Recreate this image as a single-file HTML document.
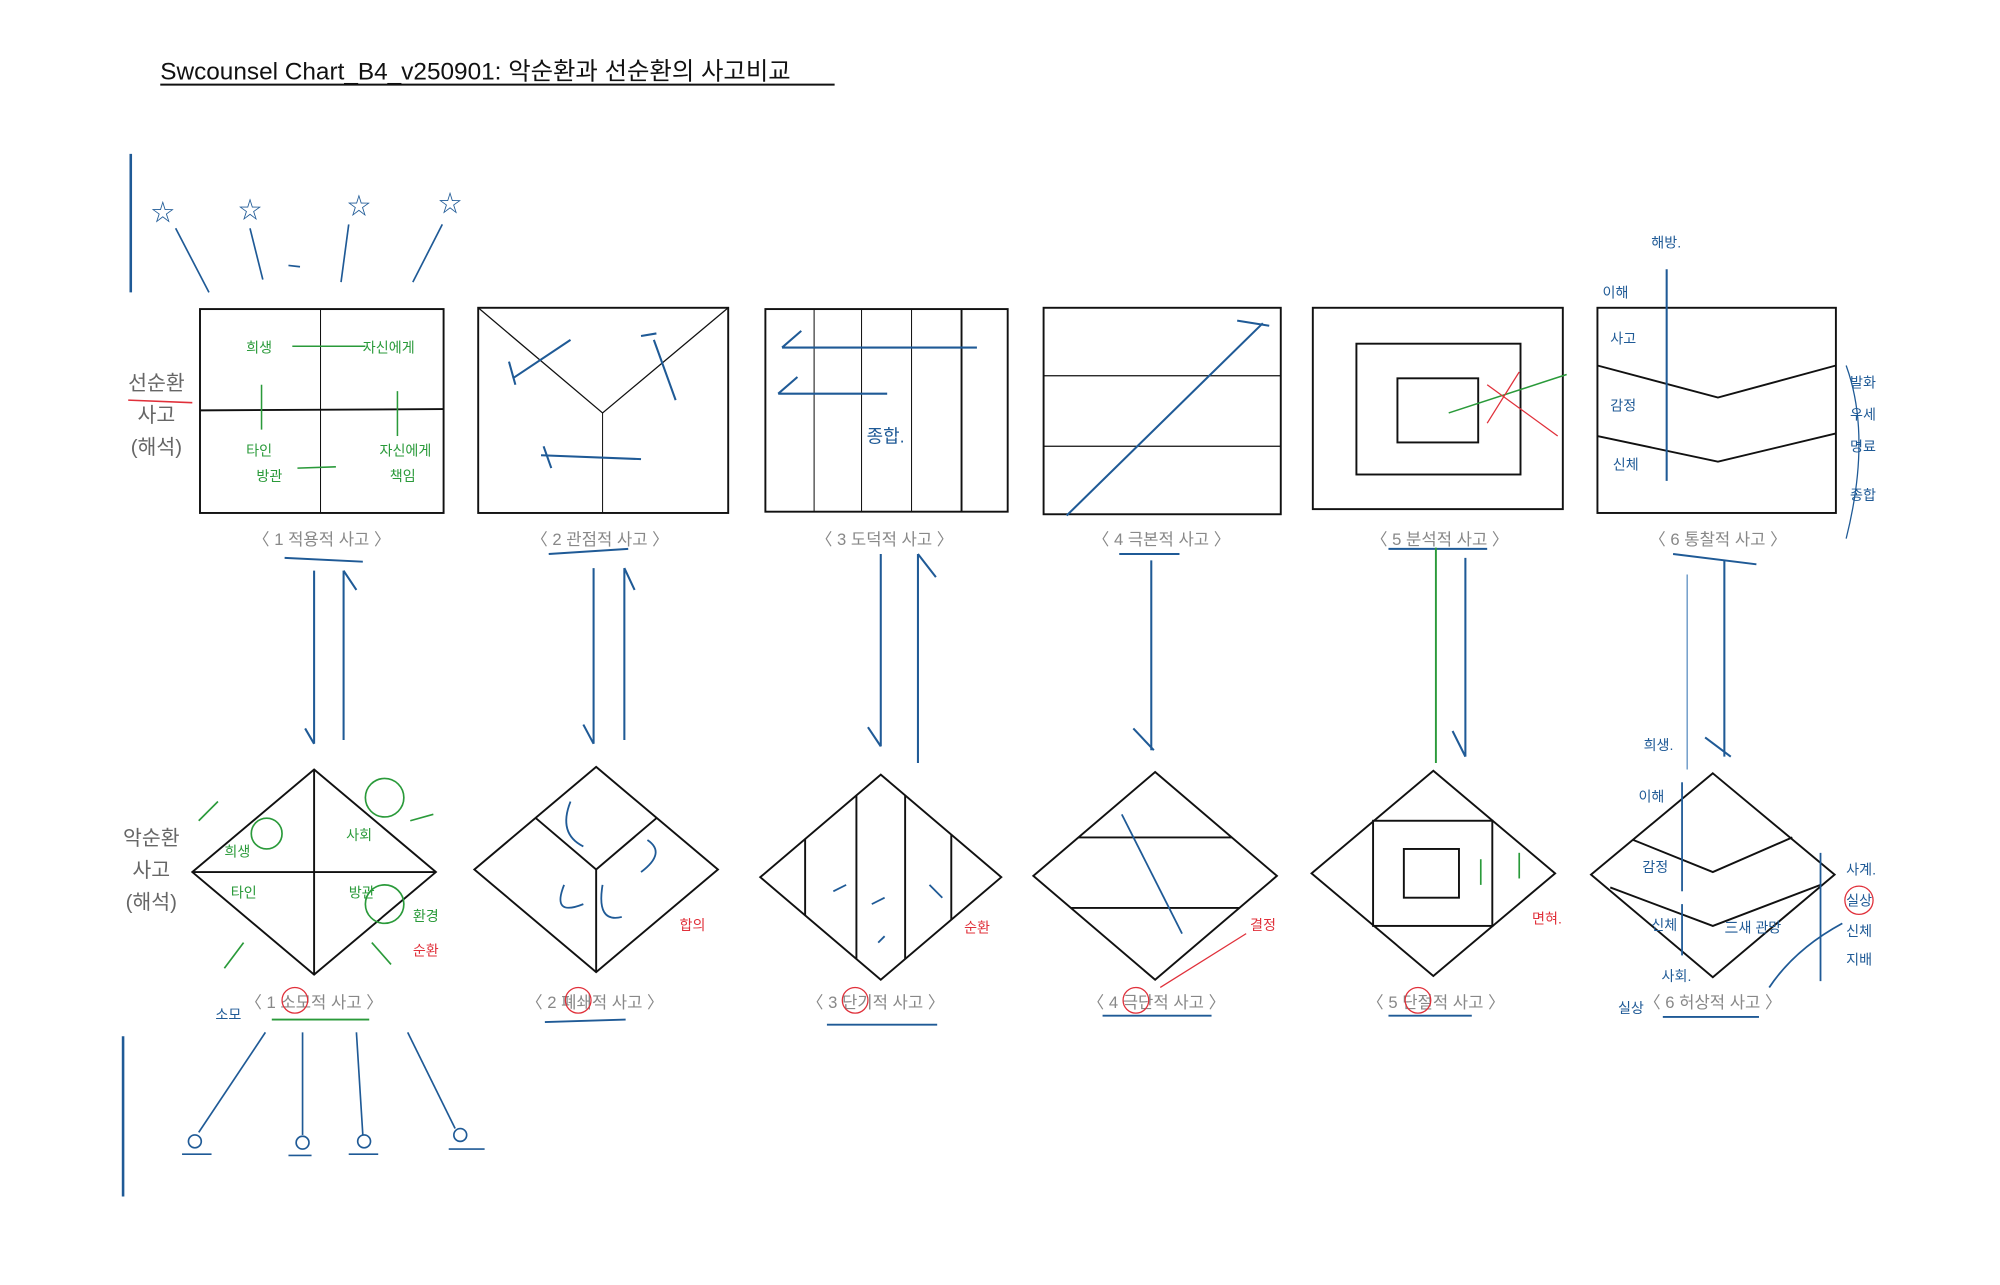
<!DOCTYPE html>
<html><head><meta charset="utf-8"><style>
html,body{margin:0;padding:0;background:#fff;}
svg{display:block;}
text{font-family:"Liberation Sans","Noto Sans CJK KR",sans-serif;}
</style></head><body>
<svg width="2000" height="1285" viewBox="0 0 1560 1002" preserveAspectRatio="none" xmlns="http://www.w3.org/2000/svg">
<g>
<text x="125" y="62" font-size="19" fill="#111">Swcounsel Chart_B4_v250901: 악순환과 선순환의 사고비교</text>
<line x1="125" y1="66" x2="651" y2="66" stroke="#111" stroke-width="1.5"/>
</g>
<line x1="102" y1="120" x2="102" y2="228" stroke="#1f5a96" stroke-width="2"/>
<line x1="96" y1="808" x2="96" y2="933" stroke="#1f5a96" stroke-width="2"/>
<g stroke="#1f5a96" stroke-width="1.3" fill="none">
<text x="118" y="172" font-size="18" fill="#1f5a96" stroke="none">☆</text>
<text x="186" y="170" font-size="18" fill="#1f5a96" stroke="none">☆</text>
<text x="271" y="167" font-size="18" fill="#1f5a96" stroke="none">☆</text>
<text x="342" y="165" font-size="18" fill="#1f5a96" stroke="none">☆</text>
<line x1="137" y1="178" x2="163" y2="228"/><line x1="195" y1="178" x2="205" y2="218"/>
<line x1="272" y1="175" x2="266" y2="220"/><line x1="345" y1="175" x2="322" y2="220"/>
<line x1="225" y1="207" x2="234" y2="208"/>
<line x1="207" y1="805" x2="155" y2="883"/><line x1="236" y1="805" x2="236" y2="885"/>
<line x1="278" y1="805" x2="283" y2="885"/><line x1="318" y1="805" x2="355" y2="880"/>
<circle cx="152" cy="890" r="5"/><circle cx="236" cy="891" r="5"/><circle cx="284" cy="890" r="5"/><circle cx="359" cy="885" r="5"/>
<line x1="142" y1="900" x2="165" y2="900"/><line x1="225" y1="901" x2="243" y2="901"/><line x1="272" y1="900" x2="295" y2="900"/><line x1="350" y1="896" x2="378" y2="896"/>
</g>
<g font-size="16" fill="#666" text-anchor="middle">
<text x="122" y="304">선순환</text><text x="122" y="329">사고</text><text x="122" y="354">(해석)</text>
<text x="118" y="659">악순환</text><text x="118" y="684">사고</text><text x="118" y="709">(해석)</text>
</g>
<line x1="100" y1="312" x2="150" y2="314" stroke="#e0303a" stroke-width="1.2"/>
<g stroke="#111" stroke-width="1.5" fill="none">
<rect x="156" y="241" width="190" height="159"/>
<line x1="250" y1="241" x2="250" y2="400" stroke-width="0.8"/>
<line x1="156" y1="320" x2="346" y2="319"/>
<rect x="373" y="240" width="195" height="160"/>
<polyline points="373,240 470,322 568,240" stroke-width="1"/>
<line x1="470" y1="322" x2="470" y2="400" stroke-width="0.8"/>
<rect x="597" y="241" width="189" height="158"/>
<line x1="635" y1="241" x2="635" y2="399" stroke-width="0.8"/>
<line x1="672" y1="241" x2="672" y2="399" stroke-width="0.8"/>
<line x1="711" y1="241" x2="711" y2="399" stroke-width="0.8"/>
<line x1="750" y1="241" x2="750" y2="399"/>
<rect x="814" y="240" width="185" height="161"/>
<line x1="814" y1="293" x2="999" y2="293" stroke-width="1"/>
<line x1="814" y1="348" x2="999" y2="348" stroke-width="1"/>
<rect x="1024" y="240" width="195" height="157"/>
<rect x="1058" y="268" width="128" height="102"/>
<rect x="1090" y="295" width="63" height="50"/>
<rect x="1246" y="240" width="186" height="160"/>
<polyline points="1246,285 1340,310 1432,285"/>
<polyline points="1246,340 1340,360 1432,338"/>
</g>
<g stroke="#1f5a96" stroke-width="1.6" fill="none">
<line x1="832" y1="402" x2="985" y2="252"/><line x1="965" y1="250" x2="990" y2="254"/>
<line x1="400" y1="295" x2="445" y2="265"/><line x1="397" y1="282" x2="402" y2="300"/>
<line x1="510" y1="265" x2="527" y2="312"/><line x1="500" y1="262" x2="512" y2="260"/>
<line x1="422" y1="355" x2="500" y2="358"/><line x1="424" y1="348" x2="430" y2="365"/>
<line x1="610" y1="271" x2="762" y2="271"/><line x1="610" y1="271" x2="625" y2="258"/>
<line x1="607" y1="307" x2="692" y2="307"/><line x1="607" y1="307" x2="622" y2="294"/>
<line x1="1300" y1="210" x2="1300" y2="375"/>
</g>
<text x="676" y="345" font-size="14" fill="#1f5a96">종합.</text>
<g stroke="#2a9a3a" stroke-width="1.2" fill="none">
<line x1="228" y1="270" x2="285" y2="270"/><line x1="204" y1="300" x2="204" y2="335"/>
<line x1="310" y1="305" x2="310" y2="340"/><line x1="232" y1="365" x2="262" y2="364"/>
<line x1="1130" y1="322" x2="1222" y2="292"/>
</g>
<g font-size="11" fill="#2a9a3a"><text x="192" y="275">희생</text><text x="283" y="275">자신에게</text><text x="192" y="355">타인</text><text x="200" y="375">방관</text><text x="296" y="355">자신에게</text><text x="304" y="375">책임</text></g>
<g stroke="#e0303a" stroke-width="1"><line x1="1160" y1="300" x2="1215" y2="340"/><line x1="1185" y1="290" x2="1160" y2="330"/></g>
<g font-size="11" fill="#1f5a96"><text x="1288" y="193">해방.</text><text x="1250" y="232">이해</text><text x="1256" y="268">사고</text><text x="1256" y="320">감정</text><text x="1258" y="366">신체</text>
<text x="1443" y="302">발화</text><text x="1443" y="327">우세</text><text x="1443" y="352">명료</text><text x="1443" y="390">종합</text></g>
<path d="M1440 285 Q1460 340 1440 420" stroke="#1f5a96" fill="none" stroke-width="1"/>
<g font-size="13" fill="#888" text-anchor="middle">
<text x="251" y="425">〈 1 적용적 사고 〉</text>
<text x="468" y="425">〈 2 관점적 사고 〉</text>
<text x="690" y="425">〈 3 도덕적 사고 〉</text>
<text x="906" y="425">〈 4 극본적 사고 〉</text>
<text x="1123" y="425">〈 5 분석적 사고 〉</text>
<text x="1340" y="425">〈 6 통찰적 사고 〉</text>
</g>
<g stroke="#1f5a96" stroke-width="1.5">
<line x1="222" y1="435" x2="283" y2="438"/><line x1="428" y1="432" x2="490" y2="428"/>
<line x1="873" y1="432" x2="920" y2="432"/><line x1="1083" y1="428" x2="1160" y2="428"/><line x1="1305" y1="432" x2="1370" y2="440"/>
</g>
<g stroke="#1f5a96" stroke-width="1.6" fill="none">
<line x1="245" y1="445" x2="245" y2="580"/><line x1="238" y1="568" x2="245" y2="580"/>
<line x1="268" y1="445" x2="268" y2="577"/><line x1="268" y1="445" x2="278" y2="460"/>
<line x1="463" y1="443" x2="463" y2="580"/><line x1="455" y1="565" x2="463" y2="580"/>
<line x1="487" y1="443" x2="487" y2="577"/><line x1="487" y1="443" x2="495" y2="460"/>
<line x1="687" y1="432" x2="687" y2="582"/><line x1="677" y1="567" x2="687" y2="582"/>
<line x1="716" y1="432" x2="716" y2="595"/><line x1="716" y1="432" x2="730" y2="450"/>
<line x1="898" y1="437" x2="898" y2="585"/><line x1="884" y1="568" x2="900" y2="585"/>
<line x1="1143" y1="435" x2="1143" y2="590"/><line x1="1133" y1="570" x2="1143" y2="590"/>
<line x1="1345" y1="437" x2="1345" y2="590"/><line x1="1330" y1="575" x2="1350" y2="590"/>
<line x1="1316" y1="448" x2="1316" y2="600" stroke="#5a8ec0" stroke-width="1"/>
</g>
<line x1="1120" y1="427" x2="1120" y2="595" stroke="#2a9a3a" stroke-width="1.5"/>
<g stroke="#111" stroke-width="1.5" fill="none">
<polygon points="245,600 340,680 245,760 150,680"/>
<line x1="245" y1="600" x2="245" y2="760"/><line x1="150" y1="680" x2="340" y2="680"/>
<polygon points="465,598 560,678 465,758 370,678"/>
<polyline points="418,638 465,678 512,638"/><line x1="465" y1="678" x2="465" y2="758"/>
<polygon points="687,604 781,684 687,764 593,684"/>
<line x1="628" y1="654" x2="628" y2="714"/><line x1="668" y1="620" x2="668" y2="748"/>
<line x1="706" y1="620" x2="706" y2="748"/><line x1="742" y1="651" x2="742" y2="717"/>
<polygon points="901,602 996,683 901,764 806,683"/>
<line x1="841" y1="653" x2="961" y2="653"/><line x1="835" y1="708" x2="967" y2="708"/>
<polygon points="1118,601 1213,681 1118,761 1023,681"/>
<rect x="1071" y="640" width="93" height="82"/><rect x="1095" y="662" width="43" height="38"/>
<polygon points="1336,603 1431,682 1336,762 1241,682"/>
<polyline points="1274,655 1336,680 1398,653"/>
<polyline points="1256,692 1336,722 1420,690"/>
</g>
<g stroke="#2a9a3a" stroke-width="1.3" fill="none">
<circle cx="300" cy="622" r="15"/><circle cx="300" cy="705" r="15"/><circle cx="208" cy="650" r="12"/>
<line x1="190" y1="735" x2="175" y2="755"/><line x1="290" y1="735" x2="305" y2="752"/>
<line x1="170" y1="625" x2="155" y2="640"/><line x1="320" y1="640" x2="338" y2="635"/>
<line x1="1155" y1="670" x2="1155" y2="690"/><line x1="1185" y1="665" x2="1185" y2="685"/>
</g>
<g font-size="11" fill="#2a9a3a"><text x="175" y="668">희생</text><text x="270" y="655">사회</text><text x="180" y="700">타인</text><text x="272" y="700">방관</text><text x="322" y="718">환경</text></g>
<g stroke="#1f5a96" stroke-width="1.4" fill="none">
<path d="M445 625 Q435 650 455 660"/><path d="M440 690 Q430 715 455 705"/><path d="M470 690 Q465 720 485 715"/><path d="M505 655 Q520 665 500 680"/>
<line x1="875" y1="635" x2="922" y2="728"/>
<line x1="650" y1="695" x2="660" y2="690"/><line x1="680" y1="705" x2="690" y2="700"/><line x1="725" y1="690" x2="735" y2="700"/><line x1="685" y1="735" x2="690" y2="730"/>
<line x1="1312" y1="610" x2="1312" y2="695"/><line x1="1312" y1="705" x2="1312" y2="745"/>
<path d="M1437 720 Q1400 740 1380 770"/><line x1="1420" y1="665" x2="1420" y2="765"/>
</g>
<g font-size="11" fill="#1f5a96"><text x="1282" y="585">희생.</text><text x="1278" y="625">이해</text><text x="1281" y="680">감정</text><text x="1288" y="725">신체</text><text x="1345" y="727">三새 관망</text><text x="1296" y="765">사회.</text><text x="1262" y="790">실상</text>
<text x="1440" y="682">사계.</text><text x="1440" y="706">실상</text><text x="1440" y="730">신체</text><text x="1440" y="752">지배</text></g>
<g font-size="11" fill="#e0303a"><text x="530" y="725">합의</text><text x="752" y="727">순환</text><text x="975" y="725">결정</text><text x="1195" y="720">면혀.</text><text x="322" y="745">순환</text></g>
<circle cx="1450" cy="702" r="11" stroke="#e0303a" fill="none"/>
<line x1="972" y1="728" x2="905" y2="770" stroke="#e0303a" stroke-width="1"/>
<g font-size="13" fill="#888" text-anchor="middle">
<text x="245" y="786">〈 1 소모적 사고 〉</text>
<text x="464" y="786">〈 2 폐쇄적 사고 〉</text>
<text x="683" y="786">〈 3 단기적 사고 〉</text>
<text x="902" y="786">〈 4 극단적 사고 〉</text>
<text x="1120" y="786">〈 5 단절적 사고 〉</text>
<text x="1336" y="786">〈 6 허상적 사고 〉</text>
</g>
<g fill="none" stroke="#e0303a" stroke-width="1">
<circle cx="230" cy="780" r="10"/><circle cx="451" cy="780" r="10"/><circle cx="667" cy="780" r="10"/><circle cx="886" cy="780" r="10"/><circle cx="1106" cy="780" r="10"/>
</g>
<g stroke="#1f5a96" stroke-width="1.5">
<line x1="212" y1="795" x2="288" y2="795" stroke="#2a9a3a"/><line x1="425" y1="797" x2="488" y2="795"/>
<line x1="645" y1="799" x2="731" y2="799"/><line x1="860" y1="792" x2="945" y2="792"/><line x1="1083" y1="792" x2="1148" y2="792"/><line x1="1297" y1="793" x2="1372" y2="793"/>
</g>
<text x="168" y="795" font-size="11" fill="#1f5a96">소모</text>
</svg>
</body></html>
